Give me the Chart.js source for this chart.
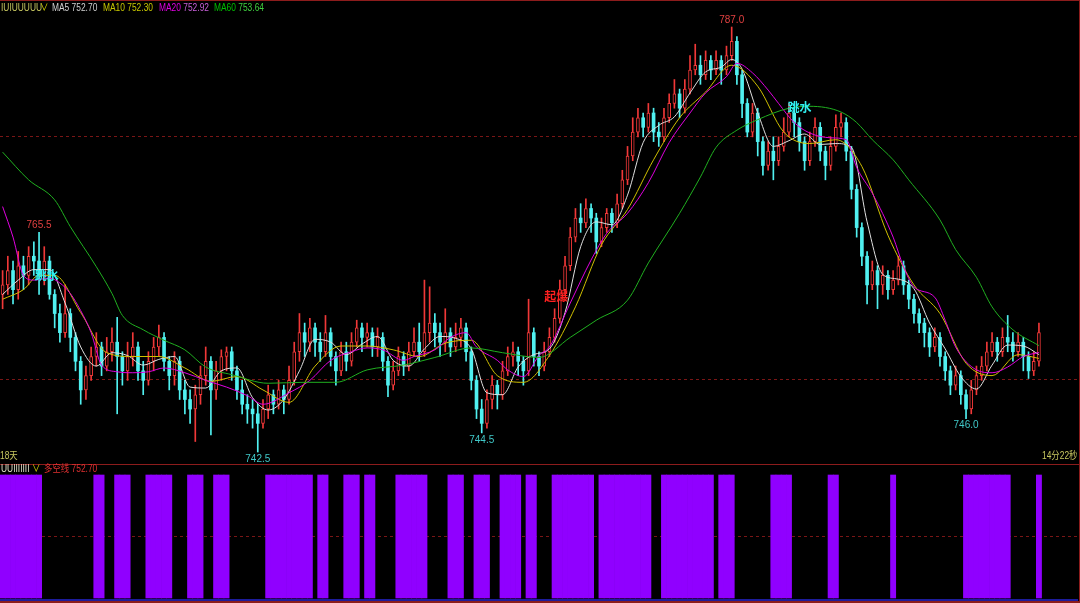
<!DOCTYPE html>
<html>
<head>
<meta charset="utf-8">
<script src="https://cdn.jsdelivr.net/npm/chart.js@4.4.0/dist/chart.umd.min.js"></script>
<style>
  body { margin: 0; background: #000; }
  #wrap { position: relative; width: 1080px; height: 603px; background: #000; overflow: hidden;
          font-family: "Liberation Sans", "Noto Sans CJK SC", sans-serif; font-size: 10px; }
  .t { position: absolute; white-space: nowrap; line-height: 12px; transform: scaleX(0.84); transform-origin: 0 0; }
  .hl { position: absolute; background: #8c1c1c; }
  #main { position: absolute; left: 0; top: 0; }
  #sub { position: absolute; left: 0; top: 465px; }
</style>
</head>
<body>
<div id="wrap">
  <canvas id="main" width="1078" height="463"></canvas>
  <canvas id="sub" width="1078" height="135"></canvas>

  <div class="hl" style="left:0;top:0;width:1080px;height:1px"></div>
  <div class="hl" style="left:0;top:464px;width:1080px;height:1px"></div>
  <div class="hl" style="left:1079px;top:0;width:1px;height:603px"></div>
  <div class="hl" style="left:0;top:601px;width:1080px;height:2px"></div>
  <div style="position:absolute;left:0;top:599px;width:1078px;height:2px;background:#1c1c9c"></div>

  <div class="t" style="left:1px;top:2px;color:#c8c860">IUIUUUUU</div>
  <div class="t" style="left:40px;top:2px;color:#d8d800">&#8744;</div>
  <div class="t" style="left:52px;top:2px;color:#d0d0d0">MA5 752.70</div>
  <div class="t" style="left:103px;top:2px;color:#c8c800">MA10 752.30</div>
  <div class="t" style="left:159px;top:2px;color:#e000e0">MA20 <span style="color:#c860d8">752.92</span></div>
  <div class="t" style="left:214px;top:2px;color:#00c000">MA60 <span style="color:#40d040">753.64</span></div>

  <div class="t" style="left:0px;top:450px;color:#c8c860">18天</div>
  <div class="t" style="left:1042px;top:450px;color:#c8c860">14分22秒</div>

  <div class="t" style="left:1px;top:463px;color:#e0e0c8">UUIIIIIII</div>
  <div class="t" style="left:32px;top:463px;color:#d8d800">&#8744;</div>
  <div class="t" style="left:44px;top:463px;color:#e03030">多空线 752.70</div>
</div>

<script>
// candles, left to right
const opens = [759,760,761.5,759.5,762,761,763,762.5,761,762.5,
  759,757,755,757,754.5,752,749,750.5,752.5,753.5,
  751.5,753,754,752.5,751,752.5,753.5,751,750,752,
  753.5,754.5,752,750.5,752,749,748,747,748.5,750.5,
  752,749,751,752.5,753,751,749,747.5,747,746.5,
  745.5,747,748.5,747.5,749,748,750,753,755,754,
  755.5,754,753,755,752.5,751,753,752,754,755.5,
  754.5,755,753.5,754.5,752,749.5,751,752.5,751.5,753,
  754,753,755,756,755,754,755,753.5,754.5,755.5,
  753,750,747,745.5,748,749.5,748.5,751,752.5,753,
  752,751,755,752.5,751.5,753,754.5,756.5,759.5,762,
  765,767,766.5,768,767,764.5,766,767.5,766.5,768.5,
  771,773.5,776,777.5,776.5,778,776,775.5,777.5,779,
  780,778.5,780.5,782.5,783,782,783.5,782.5,783.5,782.5,
  784,785.5,782,779,776,778,775,772.5,774,773,
  774.5,776,778,777,775,773,775,776.5,774,772.5,
  774.5,776.5,777,774,770,766,763,760,761.5,760,
  761,759.5,760.5,762,760,758.5,757,756,755,753.5,
  754.5,752.5,751,749.5,750.5,748.5,747,749,750.5,751.5,
  753,754,753,754.5,754,753,754,752.5,751,752];
const highs = [761.5,763,762.5,763.5,763,764,764.5,765.5,764,763,
  759.5,758,760,757.5,755,752.5,751.5,753.5,755,754,
  754.5,755.5,756.6,753,754,755,754,752,753,754.5,
  755.8,755,752.5,753,752.5,750,749,749.5,751.5,753.5,
  752.5,752,753.2,753.5,753.5,751.5,750,748.5,748,747.5,
  748,749.5,749,750,749.5,751.5,754,757,756,756.5,
  756,755,756.8,755.5,753,754,754,755,756.3,756,
  756,755.5,755.5,755,752.5,752,753.5,753,754,755.5,
  756,760.5,759.8,757,756,757.5,755.5,756,756.5,756,
  753.5,750.5,748,749,750.5,750,752,753.5,754,753.5,
  752.5,758.5,755.5,753,754,755.5,757.5,760.5,763,766,
  768,768.5,769,768.5,767.5,767,768,768,769.5,772,
  774.5,777.5,778.5,778,779,778.5,777,778.5,780,781.5,
  780.5,781.5,784,785.2,784,784.5,784,784.5,784,785,
  787,786,782.5,779.5,779,778.5,775.5,775,775.5,775.5,
  777.5,779,778.5,777.5,775.5,776,777.5,777,774.5,775.5,
  777.8,778,777.5,774.5,770.5,766.5,763.5,762.5,762,762,
  761.5,761.5,763,762.5,760.5,759,757.5,756.5,755.5,755.5,
  755,753,751.5,751.5,751,749,750,751.5,752.5,754,
  755,754.5,755.5,756.8,755,755,754.5,753,753,756];
const lows = [757.5,759,758,758.5,759.5,760,761,759,760,758.5,
  755.5,754,754.5,753,751,747.5,748,750,751.5,750.5,
  751,752,746.5,749.5,750,751.5,750,748.5,749.5,751,
  752.5,751,749,749.5,748,746.5,745.5,743.6,747.5,749.5,
  744.3,748,750,751,750,748,746.5,745.5,745,742.5,
  745,746,746.5,747,746.5,747.5,749.5,752,752.5,753,
  752.5,752,752.5,751.5,749.5,750.5,751,751.5,753.5,753,
  753.5,752.5,752.5,751,748.3,749,750.5,750.5,751,752.5,
  752,752.5,754,753.5,752.5,753,752.5,753,753.5,752,
  749,746,744.5,745,747,747,748,750.5,751.5,750.5,
  749.5,750.5,751.5,750.5,751,752.5,754,756,759,761.5,
  764.5,765.5,766,765.5,763.3,764,765.5,765.5,766,768,
  770.5,773,775.5,775.5,776,775,774.5,775,777,778.5,
  777.5,778,780,782,781,781.5,781.5,782,781,782,
  783.5,781,777.5,775.5,775.5,773.5,771.5,772,771,772.5,
  774,775.5,775.5,774,772,772.5,774.5,773,771,772,
  774,775.5,773,769,765,762,758,759.5,757.5,759,
  758.5,759,760,759,757.5,756,755,753.5,752.5,753,
  751.5,750,748.5,749,747.5,746,746.5,748.5,750,751,
  752.5,752,752.5,753,752,752.5,751,750.2,750.5,751.5];
const closes = [760,761.5,759.5,762,761,763,762.5,761,762.5,759,
  757,755,757,754.5,752,749,750.5,752.5,753.5,751.5,
  753,754,752.5,751,752.5,753.5,751,750,752,753.5,
  754.5,752,750.5,752,749,748,747,748.5,750.5,752,
  749,751,752.5,753,751,749,747.5,747,746.5,745.5,
  747,748.5,747.5,749,748,750,753,755,754,755.5,
  754,753,755,752.5,751,753,752,754,755.5,754.5,
  755,753.5,754.5,752,749.5,751,752.5,751.5,753,754,
  753,755,756,755,754,755,753.5,754.5,755.5,753,
  750,747,745.5,748,749.5,748.5,751,752.5,753,752,
  751,755,752.5,751.5,753,754.5,756.5,759.5,762,765,
  767,766.5,768,767,764.5,766,767.5,766.5,768.5,771,
  773.5,776,777.5,776.5,778,776,775.5,777.5,779,780,
  778.5,780.5,782.5,783,782,783.5,782.5,783.5,782.5,784,
  785.5,782,779,776,778,775,772.5,774,773,774.5,
  776,778,777,775,773,775,776.5,774,772.5,774.5,
  776.5,777,774,770,766,763,760,761.5,760,761,
  759.5,760.5,762,760,758.5,757,756,755,753.5,754.5,
  752.5,751,749.5,750.5,748.5,747,749,750.5,751.5,753,
  754,753,754.5,754,753,754,752.5,751,752,755];

// moving average lines: [candle index, value]
const ma5 = [[0,759],[3,760.5],[6,761.6],[9,761.6],[12,758.1],[15,753.5],[18,751.5],[21,752.9],[24,752.6],[27,751.6],
  [30,752.2],[33,752.5],[36,749.3],[39,749.2],[42,751],[45,751.3],[48,748.2],[51,746.9],[54,748],[57,751],
  [60,754.3],[63,754],[66,752.7],[69,753.8],[72,754.6],[75,752.1],[78,751.5],[81,753.3],[84,754.6],[87,754.4],
  [90,753.3],[93,748.7],[96,748.5],[99,751.4],[102,752.7],[105,753.3],[108,757.1],[111,764],[114,766.6],[117,766.3],
  [120,769.4],[123,774.9],[126,776.7],[129,777.6],[132,780.1],[135,782.3],[138,782.8],[140,783.6],[142,782.6],[145,778],
  [148,774.5],[151,775.1],[154,775.8],[157,774.7],[160,774.8],[163,774.4],[166,766.6],[169,761.1],[172,760.6],[175,759.6],
  [178,756],[181,753.3],[184,750.4],[187,749.1],[190,751.6],[193,753.7],[196,753.6],[199,752.7]];
const ma10 = [[0,758.5],[4,759.5],[7,761],[10,761],[15,757.1],[20,752.9],[25,752.5],[30,752.5],[35,751.3],[40,749.9],
  [45,750.4],[50,749],[55,747.7],[60,751.5],[65,753.6],[70,753.6],[75,753.2],[80,752.5],[85,753.9],[90,754.2],
  [95,750.5],[100,749.8],[105,752.6],[110,757.7],[115,764.2],[120,767.9],[125,773.1],[130,777.5],[135,780.2],[140,783],
  [145,780.8],[150,776],[155,774.8],[160,775.2],[165,772.4],[170,765.2],[175,760],[180,757],[185,751.8],[190,750.5],
  [195,752.7],[199,752.3]];
const ma20 = [[0,768.2],[2,765],[4,761],[6,760.5],[9,760.7],[11,760.2],[13,759.1],[15,757.3],[17,755],[19,751.6],
  [22,750.9],[25,750.8],[28,750.9],[31,751.3],[35,750.8],[39,750],[43,749.3],[47,748.4],[50,747.5],[55,748.7],
  [59,750],[63,752.1],[67,753],[70,753.4],[73,753.2],[77,752.1],[79,752.5],[83,753.2],[86,754.5],[89,755],
  [91,753.5],[95,752.1],[97,751.1],[100,750.4],[103,752.6],[105,753.5],[109,758.1],[113,762.6],[116,765.4],[120,767.5],
  [124,770.7],[128,774.9],[132,778],[135,780.1],[139,781.8],[141,783.2],[144,782.2],[147,780.4],[149,779],[152,777],
  [155,775.9],[159,775.4],[162,775.2],[164,772.3],[167,769.6],[171,765],[173,761.9],[175,759.8],[179,758.7],[181,756.3],
  [183,753.5],[187,751.1],[190,750.8],[193,751.4],[196,752.5],[199,752.92]];
const ma60 = [[0,773.9],[5,771],[10,768.9],[13,766.1],[18,761.9],[21,759.1],[23,756.8],[27,755.3],[31,754.2],[35,753.2],
  [39,751.4],[44,750.6],[51,749.7],[58,749.8],[64,749.8],[70,751.1],[77,751.6],[83,752.4],[90,753.4],[96,752.9],
  [103,752.4],[109,754.5],[114,756.3],[120,758.4],[124,762.3],[130,767.5],[134,771.3],[137,774.4],[141,776.2],[145,777.3],
  [151,778.5],[155,778.7],[161,778.1],[164,777],[167,775.2],[171,773.1],[174,771],[180,766.8],[183,763.7],[187,760.8],
  [190,757.7],[194,755.3],[199,753.64]];

// lower panel: candle index ranges where the 多空线 bars are on
const bullRanges = [[0,7],[18,19],[22,24],[28,32],[36,38],[41,43],[51,59],[61,62],[66,68],[70,71],
  [76,81],[86,88],[91,93],[96,99],[101,102],[106,113],[115,124],[127,136],[138,140],[148,151],
  [159,160],[171,171],[185,193],[199,199]];

const extremes = [[7,765.5,'high'],[140,787.0,'high'],[49,742.5,'low'],[92,744.5,'low'],[185,746.0,'low']];
const signals = [[8.5,761,'跳水','#30f0f0'],[153,778.6,'跳水','#30f0f0'],[106.3,758.8,'起爆','#ff2020']];
const guideLevels = [775.6, 750.1];

const SLOTS = 207;
const labels = [];
for(let i=0;i<SLOTS;i++) labels.push(String(i));

const UP = '#f03838', DOWN = '#50f0f0';
function isUp(i){ return closes[i] >= opens[i]; }

const wicks = [], bodies = [];
for(let i=0;i<closes.length;i++){
	wicks.push([lows[i], highs[i]]);
	bodies.push([opens[i], closes[i]]);
}
function toPoints(arr){
	return arr.map(p => ({x: String(p[0]), y: p[1]}));
}
function maSet(arr, color){
	return {type: 'line', data: toPoints(arr), borderColor: color, borderWidth: 1, pointRadius: 0,
		cubicInterpolationMode: 'monotone', order: 0};
}

const overlay = {
	id: 'overlay',
	beforeDatasetsDraw(chart){
		const ctx = chart.ctx, area = chart.chartArea, y = chart.scales.y;
		ctx.save();
		ctx.strokeStyle = '#7a1616';
		ctx.lineWidth = 1;
		ctx.setLineDash([3, 3]);
		(chart.options.guides || []).forEach(v => {
			const py = Math.round(y.getPixelForValue(v)) + 0.5;
			ctx.beginPath();
			ctx.moveTo(area.left, py);
			ctx.lineTo(area.right, py);
			ctx.stroke();
		});
		ctx.restore();
	},
	afterDatasetsDraw(chart){
		if(chart.canvas.id != 'main') return;
		const ctx = chart.ctx, x = chart.scales.x, y = chart.scales.y;
		ctx.save();
		ctx.font = '10px "Liberation Sans", sans-serif';
		ctx.textAlign = 'center';
		extremes.forEach(e => {
			const px = x.getPixelForValue(e[0]);
			const py = y.getPixelForValue(e[1]);
			if(e[2] == 'high'){
				ctx.fillStyle = '#e04040';
				ctx.textBaseline = 'bottom';
				ctx.fillText(e[1].toFixed(1), px, py - 2);
			} else {
				ctx.fillStyle = '#40c8c8';
				ctx.textBaseline = 'top';
				ctx.fillText(e[1].toFixed(1), px, py + 2);
			}
		});
		ctx.font = 'bold 12px "Noto Sans CJK SC", sans-serif';
		ctx.textBaseline = 'middle';
		signals.forEach(s => {
			ctx.fillStyle = s[3];
			ctx.fillText(s[2], x.getPixelForValue(s[0]), y.getPixelForValue(s[1]));
		});
		ctx.restore();
	}
};

const baseOptions = {
	responsive: false,
	animation: false,
	events: [],
	layout: {padding: 0},
	plugins: {legend: {display: false}, tooltip: {enabled: false}}
};

new Chart(document.getElementById('main'), {
	type: 'bar',
	data: {
		labels: labels,
		datasets: [
			maSet(ma60, '#20b020'),
			maSet(ma20, '#e000e0'),
			maSet(ma10, '#d0c000'),
			maSet(ma5, '#e0e0e0'),
			{
				data: bodies, grouped: false, order: 1, barThickness: 3, minBarLength: 1,
				borderSkipped: false,
				backgroundColor: c => isUp(c.dataIndex) ? '#000' : DOWN,
				borderColor: c => isUp(c.dataIndex) ? UP : DOWN,
				borderWidth: c => isUp(c.dataIndex) ? 1 : 0
			},
			{
				data: wicks, grouped: false, order: 2, barThickness: 1,
				backgroundColor: c => isUp(c.dataIndex) ? UP : DOWN
			}
		]
	},
	options: Object.assign({}, baseOptions, {
		guides: guideLevels,
		scales: {
			x: {display: false},
			y: {display: false, min: 741.35, max: 789.83}
		}
	}),
	plugins: [overlay]
});

const bullBars = [];
for(let i=0;i<closes.length;i++){
	let on = bullRanges.some(r => i >= r[0] && i <= r[1]);
	bullBars.push(on ? [0, 1] : null);
}

new Chart(document.getElementById('sub'), {
	type: 'bar',
	data: {
		labels: labels,
		datasets: [{
			data: bullBars, backgroundColor: '#9000ff', borderWidth: 0,
			barPercentage: 1, categoryPercentage: 1
		}]
	},
	options: Object.assign({}, baseOptions, {
		guides: [0.5],
		scales: {
			x: {display: false},
			y: {display: false, min: -0.0163, max: 1.0813}
		}
	}),
	plugins: [overlay]
});
</script>
</body>
</html>
